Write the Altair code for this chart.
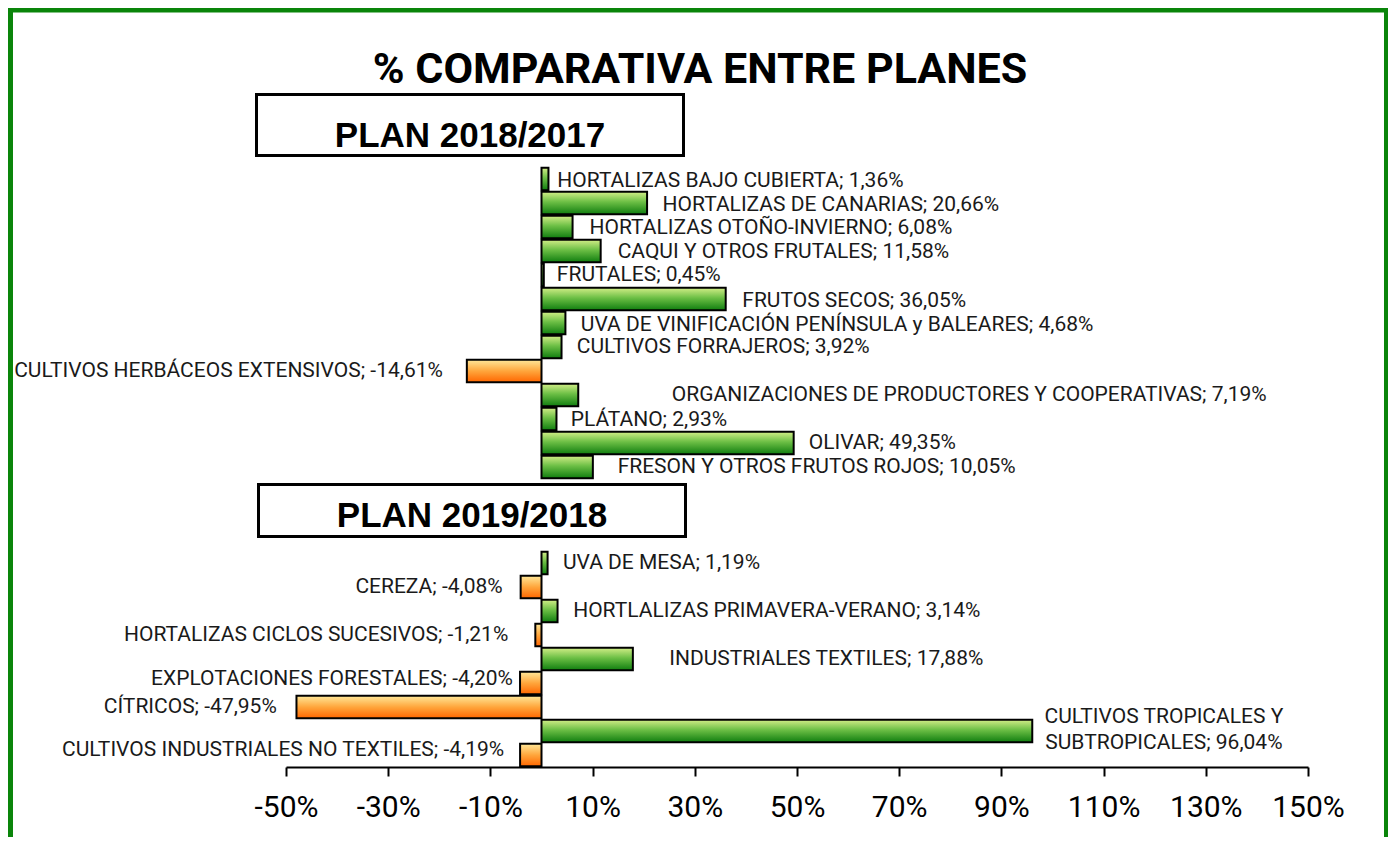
import altair as alt
import pandas as pd

# ---------------- data ----------------
cats_2018 = [
    "HORTALIZAS BAJO CUBIERTA",
    "HORTALIZAS DE CANARIAS",
    "HORTALIZAS OTOÑO-INVIERNO",
    "CAQUI Y OTROS FRUTALES",
    "FRUTALES",
    "FRUTOS SECOS",
    "UVA DE VINIFICACIÓN PENÍNSULA  y BALEARES",
    "CULTIVOS FORRAJEROS",
    "CULTIVOS HERBÁCEOS EXTENSIVOS",
    "ORGANIZACIONES DE PRODUCTORES Y COOPERATIVAS",
    "PLÁTANO",
    "OLIVAR",
    "FRESON Y OTROS FRUTOS ROJOS",
]
vals_2018 = [1.36, 20.66, 6.08, 11.58, 0.45, 36.05, 4.68, 3.92, -14.61, 7.19, 2.93, 49.35, 10.05]

cats_2019 = [
    "UVA DE MESA",
    "CEREZA",
    "HORTLALIZAS PRIMAVERA-VERANO",
    "HORTALIZAS CICLOS SUCESIVOS",
    "INDUSTRIALES TEXTILES",
    "EXPLOTACIONES FORESTALES",
    "CÍTRICOS",
    "CULTIVOS TROPICALES Y\nSUBTROPICALES",
    "CULTIVOS INDUSTRIALES NO TEXTILES",
]
vals_2019 = [1.19, -4.08, 3.14, -1.21, 17.88, -4.20, -47.95, 96.04, -4.19]

gap_rows = ["gap1", "gap2", "gap3"]
x_ticks = [-50, -30, -10, 10, 30, 50, 70, 90, 110, 130, 150]

main_title = "% COMPARATIVA ENTRE PLANES"
plan_titles = ["PLAN 2018/2017", "PLAN 2019/2018"]

# label placement (x anchor in axis units, alignment, vertical nudge in px from row centre)
label_at = [3.1, 23.7, 9.4, 14.9, 3.0, 39.3, 7.7, 6.9, -19.3, 25.5, 5.7, 52.3, 14.9,
            4.2, -7.6, 6.2, -6.5, 25.0, -5.6, -51.8, 121.8, -7.3]
label_align = ["left"] * 8 + ["right"] + ["left"] * 4 + \
    ["left", "right", "left", "right", "left", "right", "right", "center", "right"]
label_dy = [2, 2, 1, 1, 0, 2, 2, 0, 0, 0, 1, 0, 0,
            0, 0, 0, 0, 0, -4, 0, -14, -5]

# ---------------- tables ----------------
cats = cats_2018 + cats_2019
vals = vals_2018 + vals_2019


def fmt(v):
    return f"{v:.2f}".replace(".", ",") + "%"


df = pd.DataFrame({
    "cat": cats,
    "value": vals,
    "label": [f"{c}; {fmt(v)}" for c, v in zip(cats, vals)],
    "at": label_at,
    "align": label_align,
    "dy": label_dy,
})
y_domain = cats_2018 + gap_rows + cats_2019

# ---------------- styles ----------------
LABEL_FONT = "Roboto"
GREEN_GRAD = {
    "gradient": "linear", "x1": 0, "y1": 0, "x2": 0, "y2": 1,
    "stops": [
        {"offset": 0, "color": "#d3ee88"},
        {"offset": 0.45, "color": "#6cbf45"},
        {"offset": 1, "color": "#0f7d0f"},
    ],
}
ORANGE_GRAD = {
    "gradient": "linear", "x1": 0, "y1": 0, "x2": 0, "y2": 1,
    "stops": [
        {"offset": 0, "color": "#ffe89a"},
        {"offset": 0.5, "color": "#ffa63c"},
        {"offset": 1, "color": "#ff6600"},
    ],
}

STEP = 24
PAD_IN = 0.06
HALF_BAND = STEP * (1 - PAD_IN) / 2

xscale = alt.Scale(domain=[-50, 150], nice=False, zero=False)
yscale = alt.Scale(domain=y_domain, paddingInner=PAD_IN, paddingOuter=PAD_IN / 2)
x_axis = alt.Axis(values=x_ticks, labelExpr="datum.value + '%'", grid=False,
                  domainColor="black", domainWidth=2, tickColor="black",
                  tickWidth=2, tickSize=9, labelFont=LABEL_FONT, labelFontSize=30,
                  labelColor="black", labelPadding=16, labelFlush=False,
                  labelOverlap=False, title=None)

base = alt.Chart(df)

x_enc = alt.X("value:Q", scale=xscale, axis=x_axis, title=None)
y_enc = alt.Y("cat:N", scale=yscale, axis=None, sort=y_domain)

bars_pos = base.transform_filter("datum.value >= 0").mark_bar(
    fill=GREEN_GRAD, stroke="black", strokeWidth=2
).encode(x=x_enc, y=y_enc)

bars_neg = base.transform_filter("datum.value < 0").mark_bar(
    fill=ORANGE_GRAD, stroke="black", strokeWidth=2
).encode(x=x_enc, y=y_enc)


def label_layer(al):
    return base.transform_filter(f"datum.align == '{al}'").transform_calculate(
        off=f"datum.dy + {HALF_BAND}"
    ).mark_text(
        align=al, baseline="middle", font=LABEL_FONT, fontSize=21,
        color="#1a1a1a", lineBreak="\n", lineHeight=26,
    ).encode(
        x=alt.X("at:Q", scale=xscale, axis=x_axis, title=None),
        y=alt.Y("cat:N", scale=yscale, axis=None, sort=y_domain),
        yOffset=alt.YOffset("off:Q", scale=None),
        text="label:N",
    )


labels = [label_layer(a) for a in ["left", "right", "center"]]

one = pd.DataFrame({"k": [0]})

border = alt.Chart(one).mark_rect(
    filled=False, stroke="#0a850a", strokeWidth=5
).encode(
    x=alt.value(-275.5), x2=alt.value(1100.5),
    y=alt.value(-157), y2=alt.value(720),
)

title_mark = alt.Chart(pd.DataFrame({"t": [main_title]})).mark_text(
    font=LABEL_FONT, fontWeight="bold", fontSize=43, align="center",
    baseline="alphabetic", color="black",
).encode(x=alt.value(414), y=alt.value(-84), text="t:N")

box1 = alt.Chart(one).mark_rect(
    fill="white", stroke="black", strokeWidth=3
).encode(x=alt.value(-29.5), x2=alt.value(397.5), y=alt.value(-72.5), y2=alt.value(-11.5))

box2 = alt.Chart(one).mark_rect(
    fill="white", stroke="black", strokeWidth=3
).encode(x=alt.value(-27.5), x2=alt.value(399.5), y=alt.value(317.5), y2=alt.value(369.5))

plan1 = alt.Chart(pd.DataFrame({"t": [plan_titles[0]]})).mark_text(
    font="Liberation Sans", fontWeight="bold", fontSize=35, align="center",
    baseline="alphabetic", color="black",
).encode(x=alt.value(184), y=alt.value(-20), text="t:N")

plan2 = alt.Chart(pd.DataFrame({"t": [plan_titles[1]]})).mark_text(
    font="Liberation Sans", fontWeight="bold", fontSize=35, align="center",
    baseline="alphabetic", color="black",
).encode(x=alt.value(186), y=alt.value(360), text="t:N")

chart = alt.layer(
    bars_pos, bars_neg, *labels, box1, box2, plan1, plan2, title_mark, border
).properties(
    width=1022, height=600,
    padding={"left": 278, "top": 159, "right": 80, "bottom": 70},
    autosize=alt.AutoSizeParams(type="none"),
    background="white",
).configure_view(stroke=None)

chart.save("out.html", embed_options={"renderer": "svg", "actions": False})
